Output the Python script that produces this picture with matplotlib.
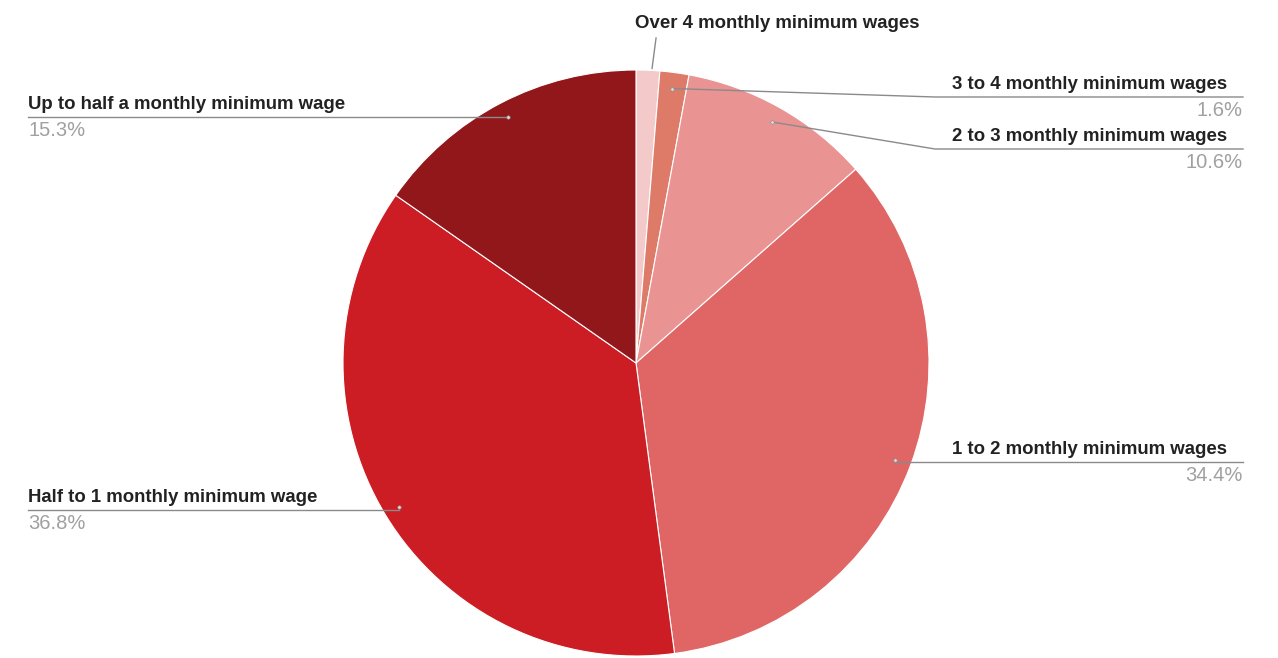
import numpy as np
import matplotlib.pyplot as plt

# Share of workers by monthly income band (percent)
bands = [
    "Over 4 monthly minimum wages",
    "3 to 4 monthly minimum wages",
    "2 to 3 monthly minimum wages",
    "1 to 2 monthly minimum wages",
    "Half to 1 monthly minimum wage",
    "Up to half a monthly minimum wage",
]
shares = [1.3, 1.6, 10.6, 34.4, 36.8, 15.3]
colors = ["#f4c9c9", "#de7b68", "#ea9393", "#e06666", "#cc1c24", "#92171b"]

W, H = 1278, 658
CX, CY, R = 636, H - 363, 293

fig = plt.figure(figsize=(W / 100, H / 100), dpi=100)
ax = fig.add_axes([0, 0, 1, 1])

wedges, _ = ax.pie(shares, colors=colors, startangle=90, counterclock=False,
                   center=(CX, CY), radius=R,
                   wedgeprops=dict(edgecolor="white", linewidth=0.8))

# pie() resets the limits, so fix the pixel frame afterwards
ax.set_xlim(0, W)
ax.set_ylim(0, H)
ax.set_aspect("equal")
ax.axis("off")

line_kw = dict(color="#8a8a8a", lw=1.0, zorder=5)
lab_kw = dict(fontsize=13.4, fontweight="bold", color="#222222",
              family="Liberation Sans")
pct_kw = dict(fontsize=14.5, color="#a0a0a0", family="Liberation Sans")


def anchor(w, frac=0.945):
    ang = np.deg2rad((w.theta1 + w.theta2) / 2)
    return CX + frac * R * np.cos(ang), CY + frac * R * np.sin(ang)


# (band index, side, y of underline in pixels from top, elbow x)
callouts = [
    (1, "right", 97, 935),
    (2, "right", 149, 935),
    (3, "right", 462, None),
    (4, "left", 510, None),
    (5, "left", 117, None),
]

for i, side, ly, elbow in callouts:
    dx, dy = anchor(wedges[i])
    y = H - ly
    if side == "right":
        x_end = 1243
        if elbow is not None:
            ax.plot([dx, elbow, x_end], [dy, y, y], **line_kw)
        else:
            ax.plot([dx, x_end], [y, y], **line_kw)
        ax.text(x_end - 16, y + 4, bands[i], ha="right", va="bottom", **lab_kw)
        ax.text(x_end, y - 4, f"{shares[i]}%", ha="right", va="top", **pct_kw)
    else:
        x_start = 28
        ax.plot([x_start, dx], [y, y], **line_kw)
        ax.text(x_start, y + 4, bands[i], ha="left", va="bottom", **lab_kw)
        ax.text(x_start, y - 4, f"{shares[i]}%", ha="left", va="top", **pct_kw)
    ax.plot(dx, dy, "o", ms=2.5, color="#d9d9d9", mec="#8a8a8a", mew=0.4, zorder=6)

# smallest slice: short leader straight up to a centred title-style label
w0 = wedges[0]
a0 = np.deg2rad((w0.theta1 + w0.theta2) / 2 - 0.8)
sx, sy = CX + R * np.cos(a0), CY + R * np.sin(a0)
ax.plot([sx, sx + 4], [sy + 2, H - 38], **line_kw)
ax.text(777, H - 23, bands[0], ha="center", va="center", **lab_kw)

fig.savefig("out.png", dpi=100, facecolor="white")
